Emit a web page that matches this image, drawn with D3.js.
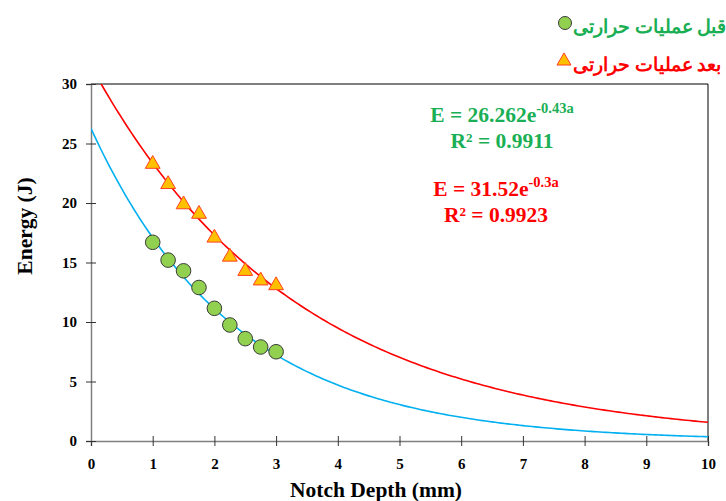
<!DOCTYPE html>
<html><head><meta charset="utf-8">
<script src="https://cdn.jsdelivr.net/npm/d3@7"></script>
<style>
body{margin:0;background:#fff;}
text{font-family:"Liberation Serif","Times New Roman",serif;font-weight:bold;}
</style></head>
<body><div id="chart"></div>
<script>
const depths = [1, 1.25, 1.5, 1.75, 2, 2.25, 2.5, 2.75, 3];
const energyBefore = [16.7, 15.2, 14.3, 12.9, 11.15, 9.75, 8.6, 7.9, 7.5];
const energyAfter = [23.4, 21.7, 20.0, 19.2, 17.2, 15.6, 14.4, 13.6, 13.2];
const fitBefore = {a: 26.262, b: -0.43};
const fitAfter = {a: 31.52, b: -0.3};
const xTicks = [0,1,2,3,4,5,6,7,8,9,10];
const yTicks = [0,5,10,15,20,25,30];
const legendLabels = ["قبل عملیات حرارتی", "بعد عملیات حرارتی"];

const W = 726, H = 501;
const svg = d3.select("#chart").append("svg").attr("width", W).attr("height", H);
const x = d3.scaleLinear().domain([0,10]).range([91,708]);
const y = d3.scaleLinear().domain([0,30]).range([441,84]);

const green = "#1AAF54", red = "#FF0000";

// frame
svg.append("line").attr("x1",x(0)).attr("x2",x(10)).attr("y1",y(30)).attr("y2",y(30)).attr("stroke","#000").attr("stroke-width",1);
svg.append("line").attr("x1",x(10)).attr("x2",x(10)).attr("y1",y(0)).attr("y2",y(30)).attr("stroke","#000").attr("stroke-width",1);

// axes
const xAxis = svg.append("g").attr("transform",`translate(0,${y(0)})`)
  .call(d3.axisBottom(x).tickValues(xTicks).tickSize(5).tickFormat(d3.format("d")));
const yAxis = svg.append("g").attr("transform",`translate(${x(0)},0)`)
  .call(d3.axisLeft(y).tickValues(yTicks).tickSize(5).tickFormat(d3.format("d")));
[xAxis,yAxis].forEach(g=>{
  g.select(".domain").attr("stroke","#7f7f7f").attr("stroke-width",1.5);
  g.selectAll(".tick line").attr("stroke","#333");
  g.selectAll("text").attr("font-family","Liberation Serif").attr("font-weight","bold").attr("font-size",15).attr("fill","#000");
});
// ticks crossing
xAxis.selectAll(".tick line").attr("y1",-5).attr("y2",5);
xAxis.selectAll(".tick text").attr("dy","1.3em");
yAxis.selectAll(".tick line").attr("x1",5).attr("x2",-5);
yAxis.selectAll(".tick text").attr("dx","-0.4em");

// clip
svg.append("clipPath").attr("id","clip").append("rect").attr("x",x(0)).attr("y",y(30)).attr("width",x(10)-x(0)).attr("height",y(0)-y(30));

const grid = d3.range(0, 10.001, 0.05);
const line = f => d3.line().x(d=>x(d)).y(d=>y(f.a*Math.exp(f.b*d)))(grid);
svg.append("path").attr("d",line(fitBefore)).attr("fill","none").attr("stroke","#00B0F0").attr("stroke-width",1.6).attr("clip-path","url(#clip)");
svg.append("path").attr("d",line(fitAfter)).attr("fill","none").attr("stroke",red).attr("stroke-width",1.6).attr("clip-path","url(#clip)");

// markers
const tri = d3.symbol().type(d3.symbolTriangle).size(95);
svg.append("g").selectAll("path").data(depths.map((d,i)=>[d,energyAfter[i]])).join("path")
  .attr("d",tri).attr("transform",d=>`translate(${x(d[0])},${y(d[1])+1.5})`)
  .attr("fill","#FFC000").attr("stroke","#FF4020").attr("stroke-width",1);
svg.append("g").selectAll("circle").data(depths.map((d,i)=>[d,energyBefore[i]])).join("circle")
  .attr("cx",d=>x(d[0])).attr("cy",d=>y(d[1])).attr("r",7.3)
  .attr("fill","#92D050").attr("stroke","#3a3a3a").attr("stroke-width",1);

// axis titles
svg.append("text").attr("x",376).attr("y",497).attr("text-anchor","middle").attr("font-size",21.5).text("Notch Depth (mm)");
svg.append("text").attr("transform","translate(32,226) rotate(-90)").attr("text-anchor","middle").attr("font-size",21.5).text("Energy (J)");

// equations
function eq(cx, cy, color, coef, exp, r2){
  const t = svg.append("text").attr("x",cx).attr("y",cy).attr("text-anchor","middle").attr("fill",color).attr("font-size",21.5);
  t.append("tspan").text("E = "+coef+"e");
  t.append("tspan").attr("dy",-9).attr("font-size",14.5).text(exp);
  svg.append("text").attr("x",cx).attr("y",cy+26).attr("text-anchor","middle").attr("fill",color).attr("font-size",21.5).text("R² = "+r2);
}
eq(502,122,green,"26.262","-0.43a","0.9911");
eq(496,196,red,"31.52","-0.3a","0.9923");

// legend (marker on the left, text to its right)
svg.append("circle").attr("cx",565).attr("cy",23).attr("r",6.5).attr("fill","#92D050").attr("stroke","#3a3a3a");
svg.append("text").attr("x",573).attr("y",33).attr("text-anchor","start").attr("fill",green)
  .attr("font-family","'Noto Sans','DejaVu Sans',sans-serif").attr("font-size",18.5).text(legendLabels[0]);
svg.append("path").attr("d",d3.symbol().type(d3.symbolTriangle).size(85)).attr("transform","translate(564,61)")
  .attr("fill","#FFC000").attr("stroke","#FF4020");
svg.append("text").attr("x",573).attr("y",71).attr("text-anchor","start").attr("fill",red)
  .attr("font-family","'Noto Sans','DejaVu Sans',sans-serif").attr("font-size",18.5).text(legendLabels[1]);
</script></body></html>
